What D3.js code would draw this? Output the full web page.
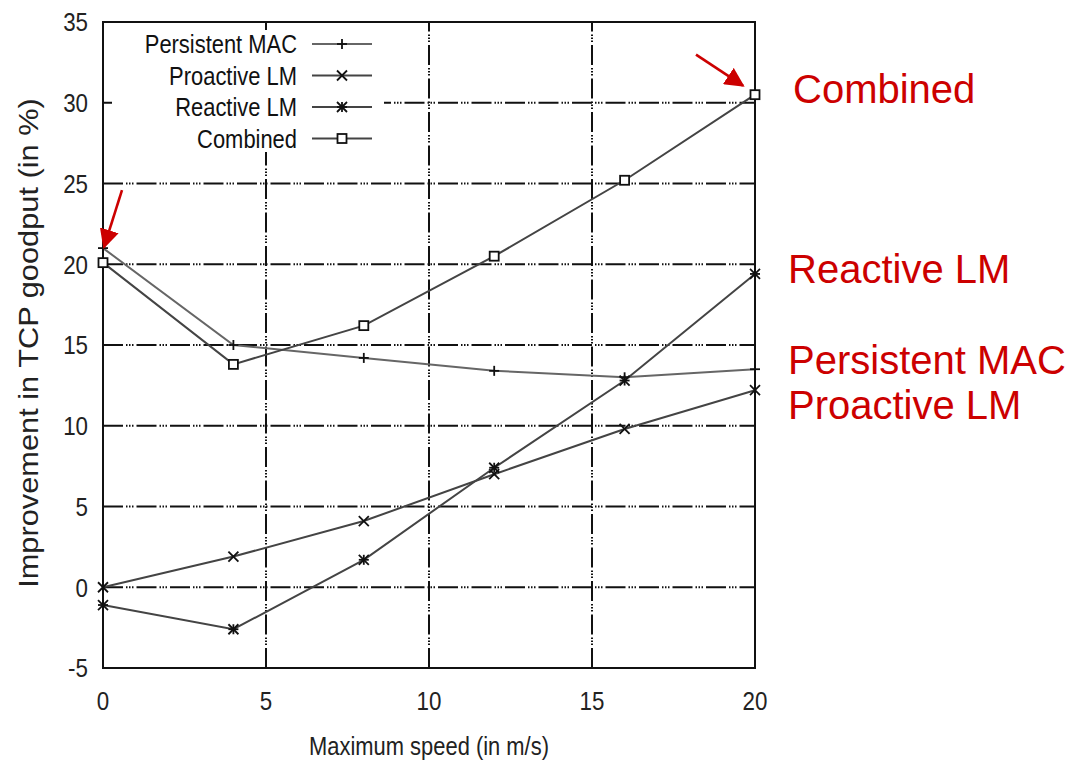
<!DOCTYPE html>
<html>
<head>
<meta charset="utf-8">
<script src="https://cdn.jsdelivr.net/npm/d3@7"></script>
<style>
  html, body { margin: 0; padding: 0; background: #fff; }
  svg { display: block; }
  text { font-family: "Liberation Sans", Arial, sans-serif; }
</style>
</head>
<body>
<svg id="chart" width="1070" height="764"></svg>
<script>
// Maximum node speed (m/s) on the x axis
const speeds = [0, 4, 8, 12, 16, 20];

// Improvement in TCP goodput (%) for each scheme
const persistentMac = [21.0, 15.0, 14.2, 13.4, 13.0, 13.5];
const proactiveLm   = [0.0, 1.9, 4.1, 7.0, 9.8, 12.2];
const reactiveLm    = [-1.1, -2.6, 1.7, 7.4, 12.8, 19.4];
const combined      = [20.1, 13.8, 16.2, 20.5, 25.2, 30.5];

const seriesNames = ["Persistent MAC", "Proactive LM", "Reactive LM", "Combined"];
const seriesValues = [persistentMac, proactiveLm, reactiveLm, combined];
const markerKinds = ["plus", "cross", "star", "square"];

const xTicks = [0, 5, 10, 15, 20];
const yTicks = [-5, 0, 5, 10, 15, 20, 25, 30, 35];

const svg = d3.select("#chart");
const plot = { left: 103, right: 755, top: 22, bottom: 668 };

const x = d3.scaleLinear().domain([0, 20]).range([plot.left, plot.right]);
const y = d3.scaleLinear().domain([-5, 35]).range([plot.bottom, plot.top]);

const condensed = 0.86;
const gridDash = "20,3,1.5,1.5,1.5,1.5,1.5,3";
const tickFmt = d => String(d); // plain hyphen for negatives

// grid lines
const grid = svg.append("g");
grid.selectAll("line.gy").data(yTicks.filter(t => t > -5 && t < 35)).join("line")
  .attr("x1", plot.left).attr("x2", plot.right)
  .attr("y1", d => y(d)).attr("y2", d => y(d))
  .attr("stroke", "#111").attr("stroke-width", 2).attr("stroke-dasharray", gridDash);
grid.selectAll("line.gx").data(xTicks.filter(t => t > 0 && t < 20)).join("line")
  .attr("y1", plot.bottom).attr("y2", plot.top)
  .attr("x1", d => x(d)).attr("x2", d => x(d))
  .attr("stroke", "#111").attr("stroke-width", 2).attr("stroke-dasharray", gridDash);

// key area blanks the grid behind it
svg.append("rect").attr("x", 112).attr("y", 30).attr("width", 272).attr("height", 122).attr("fill", "#fff");

// frame
svg.append("rect")
  .attr("x", plot.left).attr("y", plot.top)
  .attr("width", plot.right - plot.left).attr("height", plot.bottom - plot.top)
  .attr("fill", "none").attr("stroke", "#111").attr("stroke-width", 2);

// axis tick labels via d3 axes
const yAxis = svg.append("g").attr("transform", `translate(${plot.left},0)`)
  .call(d3.axisLeft(y).tickValues(yTicks).tickFormat(tickFmt).tickSize(0).tickPadding(0));
yAxis.select(".domain").remove();
yAxis.selectAll(".tick").each(function(d) {
  const t = d3.select(this);
  t.attr("transform", null);
  t.select("text")
    .attr("x", 0).attr("y", 0).attr("dy", "0.36em")
    .attr("text-anchor", "end")
    .attr("font-size", 26).attr("fill", "#222").attr("font-family", "Liberation Sans, Arial, sans-serif")
    .attr("transform", `translate(-15,${y(d)}) scale(${condensed},1)`);
});

const xAxis = svg.append("g").attr("transform", `translate(0,${plot.bottom})`)
  .call(d3.axisBottom(x).tickValues(xTicks).tickFormat(tickFmt).tickSize(0).tickPadding(0));
xAxis.select(".domain").remove();
xAxis.selectAll(".tick").each(function(d) {
  const t = d3.select(this);
  t.attr("transform", null);
  t.select("text")
    .attr("x", 0).attr("y", 0).attr("dy", null)
    .attr("text-anchor", "middle")
    .attr("font-size", 26).attr("fill", "#222").attr("font-family", "Liberation Sans, Arial, sans-serif")
    .attr("transform", `translate(${x(d)},42) scale(${condensed},1)`);
});

// axis titles
svg.append("text")
  .attr("transform", `translate(${(plot.left + plot.right) / 2},755) scale(${condensed},1)`)
  .attr("text-anchor", "middle").attr("font-size", 25.5).attr("fill", "#222")
  .text("Maximum speed (in m/s)");
svg.append("text")
  .attr("transform", `translate(38,343) rotate(-90) scale(1.14,1)`)
  .attr("text-anchor", "middle").attr("font-size", 27).attr("fill", "#222")
  .text("Improvement in TCP goodput (in %)");

// marker drawing
function drawMarker(g, kind, cx, cy) {
  const s = 5;
  const seg = (x1, y1, x2, y2) => g.append("line")
    .attr("x1", x1).attr("y1", y1).attr("x2", x2).attr("y2", y2)
    .attr("stroke", "#111").attr("stroke-width", 1.8);
  if (kind === "plus" || kind === "star") { seg(cx - s, cy, cx + s, cy); seg(cx, cy - s, cx, cy + s); }
  if (kind === "cross" || kind === "star") { seg(cx - s, cy - s, cx + s, cy + s); seg(cx - s, cy + s, cx + s, cy - s); }
  if (kind === "square") {
    g.append("rect").attr("x", cx - 4.5).attr("y", cy - 4.5).attr("width", 9).attr("height", 9)
      .attr("fill", "#fff").attr("stroke", "#111").attr("stroke-width", 1.8);
  }
}

// series lines and markers
const line = d3.line().x((d, i) => x(speeds[i])).y(d => y(d));
seriesValues.forEach((vals, si) => {
  const g = svg.append("g");
  g.append("path").attr("d", line(vals)).attr("fill", "none")
    .attr("stroke", si === 0 ? "#666" : "#444").attr("stroke-width", 2);
  vals.forEach((v, i) => drawMarker(g, markerKinds[si], x(speeds[i]), y(v)));
});

// key
const key = svg.append("g");
seriesNames.forEach((name, i) => {
  const cy = 44 + i * 31.5;
  key.append("text")
    .attr("transform", `translate(297,${cy + 9}) scale(${condensed},1)`)
    .attr("text-anchor", "end").attr("font-size", 25.5).attr("fill", "#111")
    .text(name);
  key.append("line").attr("x1", 312).attr("x2", 372).attr("y1", cy).attr("y2", cy)
    .attr("stroke", i === 0 ? "#666" : "#444").attr("stroke-width", 2);
  drawMarker(key, markerKinds[i], 342, cy);
});

// red call-outs
const red = "#cc0000";
svg.append("defs").append("marker")
  .attr("id", "head").attr("viewBox", "0 0 10 10").attr("refX", 9).attr("refY", 5)
  .attr("markerWidth", 7.5).attr("markerHeight", 7.5).attr("orient", "auto")
  .attr("markerUnits", "strokeWidth")
  .append("path").attr("d", "M0,0 L10,5 L0,10 z").attr("fill", red);

const lastIdx = speeds.length - 1;
svg.append("line")
  .attr("x1", x(speeds[lastIdx]) - 59).attr("y1", y(combined[lastIdx]) - 40)
  .attr("x2", x(speeds[lastIdx]) - 12).attr("y2", y(combined[lastIdx]) - 9)
  .attr("stroke", red).attr("stroke-width", 2.6).attr("marker-end", "url(#head)");
svg.append("line")
  .attr("x1", x(speeds[0]) + 19).attr("y1", y(persistentMac[0]) - 58)
  .attr("x2", x(speeds[0]) + 1).attr("y2", y(persistentMac[0]) - 1)
  .attr("stroke", red).attr("stroke-width", 2.6).attr("marker-end", "url(#head)");

const callouts = [
  { text: "Combined", x: 793, y: 103 },
  { text: "Reactive LM", x: 788, y: 283 },
  { text: "Persistent MAC", x: 788, y: 374 },
  { text: "Proactive LM", x: 788, y: 419 }
];
svg.selectAll("text.callout").data(callouts).join("text")
  .attr("class", "callout")
  .attr("x", d => d.x).attr("y", d => d.y)
  .attr("font-size", 40).attr("fill", red)
  .text(d => d.text);
</script>
</body>
</html>
